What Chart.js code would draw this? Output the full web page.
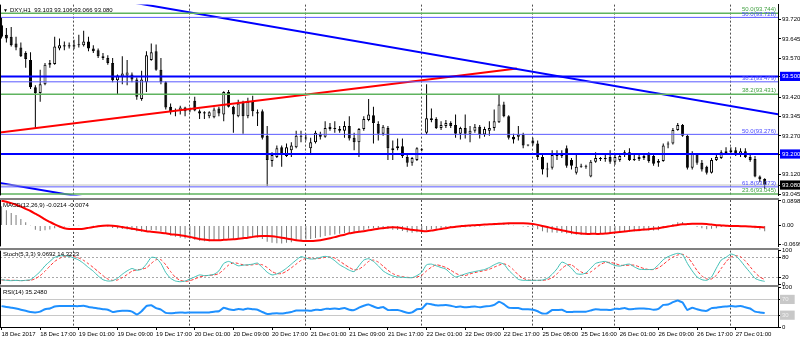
<!DOCTYPE html>
<html>
<head>
<meta charset="utf-8">
<script src="https://cdn.jsdelivr.net/npm/chart.js@4.4.1/dist/chart.umd.min.js"></script>
<style>
html,body{margin:0;padding:0;background:#fff;overflow:hidden;}
#wrap{position:relative;width:800px;height:341px;background:#fff;overflow:hidden;}
#wrap canvas{position:absolute;left:0;}
.sep{position:absolute;left:0;width:779px;height:2px;background:#808080;}
</style>
</head>
<body>
<div id="wrap">
<div class="sep" style="top:198px"></div>
<div class="sep" style="top:248px"></div>
<div class="sep" style="top:285px"></div>
<canvas id="cMain" width="800" height="200" style="top:0"></canvas>
<canvas id="cMacd" width="800" height="56" style="top:195px"></canvas>
<canvas id="cStoch" width="800" height="43" style="top:246px"></canvas>
<canvas id="cRsi" width="800" height="58" style="top:283px"></canvas>
</div>
<script>
// ---------------- categories (H1 bars) ----------------
const dayRuns = [["18 Dec",9,23],["19 Dec",0,23],["20 Dec",0,23],["21 Dec",0,23],["22 Dec",0,22],["25 Dec",6,22],["26 Dec",0,23],["27 Dec",0,7]];
const barTimes = [];
const dayStartBars = [];
dayRuns.forEach(function(r){ dayStartBars.push(barTimes.length); for (let h=r[1]; h<=r[2]; h++) barTimes.push(r[0]+' '+(h<10?'0':'')+h+':00'); });
const separatorBars = dayStartBars.slice(1);
const timeTickLabels = ["18 Dec 2017","18 Dec 17:00","19 Dec 01:00","19 Dec 09:00","19 Dec 17:00","20 Dec 01:00","20 Dec 09:00","20 Dec 17:00","21 Dec 01:00","21 Dec 09:00","21 Dec 17:00","22 Dec 01:00","22 Dec 09:00","22 Dec 17:00","25 Dec 08:00","25 Dec 16:00","26 Dec 01:00","26 Dec 09:00","26 Dec 17:00","27 Dec 01:00"];
const timeTickBars = timeTickLabels.map(function(l,k){ return k===0 ? 0 : barTimes.indexOf(l); });

// ---------------- price series (DXY, H1) ----------------
const openP = [
93.698,93.661,93.653,93.627,93.612,93.590,93.563,93.458,93.436,93.470,
93.545,93.548,93.608,93.616,93.620,93.616,93.623,93.620,93.635,93.608,
93.601,93.578,93.571,93.552,93.485,93.500,93.503,93.507,93.488,93.413,
93.477,93.563,93.597,93.526,93.477,93.383,93.365,93.368,93.380,93.368,
93.406,93.365,93.361,93.346,93.342,93.376,93.353,93.440,93.383,93.346,
93.402,93.346,93.402,93.361,93.365,93.271,93.173,93.188,93.226,93.192,
93.215,93.226,93.267,93.263,93.222,93.245,93.278,93.267,93.305,93.297,
93.297,93.290,93.308,93.263,93.245,93.297,93.331,93.350,93.316,93.278,
93.301,93.215,93.222,93.230,93.188,93.166,93.177,93.218,93.282,93.338,
93.335,93.301,93.308,93.320,93.312,93.278,93.301,93.278,93.290,93.305,
93.275,93.290,93.301,93.323,93.391,93.346,93.267,93.267,93.275,93.233,
93.252,93.241,93.188,93.140,93.147,93.192,93.192,93.222,93.177,93.128,
93.155,93.155,93.113,93.170,93.181,93.181,93.188,93.170,93.177,93.196,
93.207,93.177,93.181,93.185,93.200,93.192,93.166,93.173,93.237,93.241,
93.293,93.312,93.271,93.147,93.200,93.166,93.151,93.128,93.177,93.185,
93.203,93.207,93.215,93.196,93.211,93.188,93.181,93.113,93.103];
const highP = [
93.728,93.687,93.691,93.653,93.631,93.597,93.593,93.466,93.526,93.552,
93.563,93.653,93.646,93.635,93.631,93.642,93.661,93.676,93.653,93.620,
93.608,93.590,93.582,93.571,93.507,93.578,93.563,93.515,93.496,93.522,
93.597,93.627,93.623,93.571,93.481,93.395,93.376,93.387,93.383,93.380,
93.421,93.372,93.365,93.365,93.380,93.383,93.443,93.447,93.387,93.410,
93.406,93.417,93.425,93.372,93.372,93.308,93.207,93.233,93.233,93.241,
93.245,93.290,93.290,93.278,93.263,93.290,93.286,93.327,93.320,93.327,
93.308,93.327,93.346,93.282,93.301,93.346,93.413,93.383,93.327,93.312,
93.308,93.252,93.260,93.260,93.203,93.188,93.226,93.222,93.470,93.376,
93.342,93.327,93.331,93.327,93.353,93.305,93.353,93.308,93.316,93.312,
93.305,93.327,93.372,93.432,93.402,93.350,93.278,93.308,93.282,93.237,
93.263,93.252,93.196,93.166,93.215,93.215,93.215,93.233,93.185,93.196,
93.162,93.158,93.177,93.207,93.188,93.196,93.215,93.196,93.196,93.215,
93.222,93.196,93.196,93.200,93.207,93.203,93.181,93.241,93.248,93.301,
93.320,93.316,93.275,93.211,93.203,93.177,93.155,93.185,93.196,93.215,
93.226,93.226,93.226,93.222,93.222,93.196,93.192,93.117,93.106];
const lowP = [
93.646,93.631,93.616,93.601,93.575,93.533,93.451,93.301,93.402,93.466,
93.533,93.545,93.601,93.601,93.608,93.605,93.612,93.616,93.597,93.590,
93.571,93.563,93.545,93.477,93.428,93.470,93.466,93.477,93.410,93.406,
93.440,93.560,93.522,93.470,93.372,93.353,93.346,93.353,93.346,93.361,
93.365,93.335,93.335,93.338,93.338,93.346,93.327,93.380,93.282,93.342,
93.278,93.338,93.346,93.308,93.256,93.076,93.151,93.185,93.151,93.188,
93.188,93.222,93.245,93.252,93.203,93.241,93.256,93.263,93.290,93.282,
93.282,93.263,93.252,93.215,93.188,93.290,93.327,93.241,93.252,93.271,
93.177,93.177,93.215,93.185,93.151,93.155,93.173,93.211,93.275,93.323,
93.297,93.293,93.301,93.301,93.263,93.256,93.260,93.245,93.282,93.260,
93.267,93.271,93.290,93.320,93.342,93.256,93.241,93.252,93.222,93.230,
93.233,93.177,93.121,93.110,93.140,93.177,93.185,93.147,93.140,93.121,
93.147,93.143,93.110,93.166,93.173,93.170,93.162,93.158,93.170,93.188,
93.173,93.173,93.173,93.177,93.166,93.155,93.151,93.170,93.222,93.237,
93.290,93.267,93.140,93.140,93.158,93.132,93.121,93.125,93.173,93.181,
93.196,93.196,93.192,93.188,93.185,93.170,93.110,93.091,93.066];
const closeP = [
93.653,93.646,93.620,93.612,93.578,93.567,93.458,93.436,93.470,93.545,
93.552,93.616,93.620,93.620,93.616,93.620,93.620,93.635,93.608,93.597,
93.578,93.571,93.552,93.485,93.503,93.511,93.515,93.488,93.421,93.488,
93.582,93.593,93.526,93.477,93.380,93.361,93.368,93.380,93.365,93.372,
93.368,93.357,93.357,93.361,93.372,93.357,93.440,93.383,93.353,93.395,
93.346,93.402,93.365,93.357,93.263,93.177,93.196,93.222,93.196,93.226,
93.233,93.271,93.271,93.260,93.245,93.282,93.267,93.301,93.297,93.301,
93.290,93.308,93.260,93.245,93.297,93.335,93.353,93.320,93.278,93.305,
93.222,93.222,93.230,93.192,93.166,93.185,93.222,93.215,93.338,93.331,
93.301,93.312,93.320,93.308,93.278,93.301,93.278,93.290,93.305,93.275,
93.297,93.301,93.327,93.391,93.346,93.263,93.256,93.275,93.233,93.233,
93.241,93.188,93.140,93.143,93.196,93.200,93.203,93.155,93.155,93.151,
93.151,93.151,93.170,93.185,93.185,93.181,93.170,93.188,93.192,93.207,
93.177,93.181,93.188,93.192,93.173,93.162,93.173,93.233,93.241,93.293,
93.312,93.271,93.147,93.200,93.166,93.140,93.128,93.177,93.188,93.207,
93.211,93.215,93.196,93.211,93.188,93.177,93.113,93.102,93.080];

// ---------------- indicators ----------------
const macdMain = [
0.070,0.056,0.046,0.038,0.024,0.012,0.001,-0.016,-0.020,-0.018,
-0.015,-0.010,-0.007,-0.004,-0.003,-0.001,0.001,0.002,0.002,0.001,
-0.001,-0.003,-0.005,-0.009,-0.011,-0.013,-0.015,-0.017,-0.021,-0.023,
-0.020,-0.017,-0.018,-0.022,-0.030,-0.037,-0.042,-0.045,-0.048,-0.050,
-0.053,-0.056,-0.058,-0.058,-0.057,-0.056,-0.050,-0.048,-0.049,-0.046,
-0.047,-0.044,-0.043,-0.044,-0.050,-0.060,-0.064,-0.065,-0.066,-0.064,
-0.062,-0.057,-0.054,-0.052,-0.050,-0.046,-0.043,-0.039,-0.036,-0.033,
-0.031,-0.028,-0.028,-0.027,-0.023,-0.017,-0.011,-0.010,-0.011,-0.009,
-0.013,-0.016,-0.017,-0.020,-0.025,-0.027,-0.025,-0.024,-0.017,-0.013,
-0.012,-0.010,-0.008,-0.007,-0.008,-0.007,-0.007,-0.006,-0.004,-0.004,
-0.003,-0.002,0.001,0.008,0.009,0.004,0.001,0.000,-0.004,-0.006,
-0.008,-0.014,-0.021,-0.026,-0.026,-0.027,-0.027,-0.030,-0.032,-0.034,
-0.035,-0.035,-0.034,-0.032,-0.031,-0.030,-0.030,-0.028,-0.027,-0.024,
-0.024,-0.022,-0.021,-0.019,-0.019,-0.019,-0.018,-0.010,-0.004,0.005,
0.012,0.013,0.002,-0.002,-0.005,-0.010,-0.014,-0.012,-0.010,-0.006,
-0.004,-0.002,-0.002,-0.001,-0.002,-0.004,-0.010,-0.015,-0.0214];
const macdSignal = [
0.091,0.087,0.082,0.076,0.069,0.061,0.053,0.043,0.033,0.022,
0.013,0.004,-0.004,-0.010,-0.013,-0.013,-0.013,-0.012,-0.009,-0.006,
-0.003,-0.001,0.000,-0.001,-0.003,-0.006,-0.009,-0.012,-0.015,-0.018,
-0.021,-0.023,-0.025,-0.027,-0.029,-0.032,-0.034,-0.036,-0.039,-0.042,
-0.046,-0.050,-0.052,-0.054,-0.054,-0.054,-0.053,-0.052,-0.051,-0.049,
-0.047,-0.045,-0.042,-0.040,-0.039,-0.039,-0.040,-0.042,-0.045,-0.048,
-0.051,-0.054,-0.056,-0.057,-0.057,-0.056,-0.054,-0.051,-0.047,-0.043,
-0.038,-0.034,-0.029,-0.026,-0.023,-0.021,-0.018,-0.015,-0.012,-0.010,
-0.008,-0.007,-0.008,-0.010,-0.013,-0.016,-0.018,-0.020,-0.021,-0.019,
-0.016,-0.013,-0.010,-0.007,-0.005,-0.003,-0.001,0.000,0.001,0.002,
0.003,0.004,0.005,0.006,0.007,0.008,0.008,0.008,0.008,0.007,
0.005,0.002,-0.002,-0.006,-0.010,-0.014,-0.018,-0.021,-0.025,-0.028,
-0.030,-0.031,-0.031,-0.031,-0.031,-0.030,-0.028,-0.026,-0.024,-0.022,
-0.020,-0.018,-0.017,-0.015,-0.014,-0.012,-0.010,-0.007,-0.004,-0.001,
0.002,0.004,0.005,0.006,0.006,0.006,0.005,0.003,0.001,0.000,
-0.001,-0.002,-0.002,-0.003,-0.003,-0.004,-0.005,-0.006,-0.0074];
const stochMain = [
14,12,11,12,11,12,14,25,38,55,
68,80,84,85,83,78,72,62,50,39,
25,14,10,11,18,30,40,47,42,45,
60,80,78,62,35,18,10,8,10,16,
22,28,26,27,30,40,62,68,62,55,
57,58,60,63,50,36,28,31,38,48,
60,72,82,78,75,76,80,83,80,70,
58,50,42,38,55,72,76,68,55,40,
31,25,22,21,20,20,26,36,58,60,
55,50,45,32,22,26,31,35,38,41,
44,50,58,64,60,42,28,15,12,12,
12,12,13,18,30,46,66,60,48,32,
30,34,48,62,66,68,62,56,54,58,
60,52,45,44,44,45,58,73,82,88,
92,88,62,40,22,14,12,22,48,72,
80,90,85,70,52,35,18,12,9.0692];
const stochSignal = [
13,13,12,12,11,12,12,17,26,39,
54,68,77,83,84,82,78,71,61,50,
38,26,16,12,13,20,29,39,43,45,
49,62,73,73,58,38,21,12,9,11,
16,22,25,27,28,32,44,57,64,62,
58,57,58,60,58,50,38,32,32,39,
49,60,71,77,78,76,77,80,81,78,
69,59,50,43,45,55,68,72,66,54,
42,32,26,23,21,20,22,27,40,51,
58,55,50,42,33,27,26,31,35,38,
41,45,51,57,61,55,43,28,18,13,
12,12,12,14,20,31,47,57,58,47,
37,32,37,48,59,65,65,62,57,56,
57,57,52,47,44,44,49,59,71,81,
87,89,81,63,41,25,16,16,27,47,
67,81,85,82,69,52,35,22,14.3223];
const rsiValues = [
53,51,49,47,44,41,38,37,39,45,
47,52,53,53,53,53,53,54,51,49,
47,45,44,38,40,41,41,39,32,40,
53,55,48,44,36,35,36,37,36,37,
37,37,37,37,39,40,49,45,43,46,
44,47,45,44,38,33,34,35,34,36,
38,42,42,42,41,44,43,46,46,47,
46,48,44,43,49,54,57,52,48,51,
43,43,43,40,36,37,45,46,59,58,
55,55,56,54,51,52,50,51,52,50,
52,53,56,64,58,49,48,48,45,45,
44,40,34,35,43,43,44,38,38,39,
39,39,42,45,44,44,43,46,46,48,
45,46,47,47,46,44,46,56,57,63,
67,62,43,49,45,42,41,48,49,51,
52,53,52,53,50,47,39,37,35.248];

// ---------------- objects / levels ----------------
const thickLevels = [93.500, 93.200];
const fiboBlue = [93.728, 93.479, 93.276, 93.073];
const fiboBlueText = ["50.0(93.728)","38.2(93.479)","50.0(93.276)","61.8(93.073)"];
const fiboGreen = [93.744, 93.431, 93.045];
const fiboGreenText = ["50.0(93.744)","38.2(93.431)","23.6(93.045)"];
const bidPrice = 93.080;
const trendDownBars = [20, 160.8], trendDownPrices = [93.8088, 93.3532];
const channelBars = [-5, 25], channelPrices = [93.1033, 93.0072];
const trendUpBars = [-5, 106.7], trendUpPrices = [93.2724, 93.5305];
const priceTicks = [93.045, 93.080, 93.120, 93.200, 93.270, 93.345, 93.420, 93.500, 93.570, 93.645, 93.720];
const boxedPrices = [[93.500,'#0000ff'],[93.200,'#0000ff'],[93.080,'#000000']];
const macdTicks = [-0.0699, 0, 0.0898];
const stochTicks = [0, 20, 80, 100];
const rsiTicks = [0, 30, 70, 100];

// ---------------- drawing ----------------
const FONT = '"Liberation Sans", Arial, sans-serif';
Chart.defaults.font.family = FONT;
Chart.defaults.font.size = 6;
Chart.defaults.color = '#000';
const X_MIN = -0.32, X_MAX = 160.76;
const idx = barTimes.map(function(_, i){ return i; });

const panelDecor = {
  id: 'panelDecor',
  afterDraw: function(chart, args, opts) {
    const ctx = chart.ctx, a = chart.chartArea;
    ctx.save();
    ctx.strokeStyle = '#000'; ctx.lineWidth = 1;
    ctx.beginPath(); ctx.moveTo(a.left + 0.5, a.top); ctx.lineTo(a.left + 0.5, a.bottom); ctx.stroke();
    (opts.texts || []).forEach(function(t){
      ctx.font = (t.size || 6) + 'px ' + FONT;
      ctx.fillStyle = t.color || '#000';
      ctx.textAlign = t.align || 'left';
      let y;
      if (t.value !== undefined) { ctx.textBaseline = 'bottom'; y = chart.scales.y.getPixelForValue(t.value) - 0.5; }
      else { ctx.textBaseline = 'middle'; y = a.top + t.dy; }
      const x = t.right ? a.right - t.right : a.left + t.dx;
      ctx.fillText(t.text, x, y);
    });
    ctx.restore();
  }
};

function sepAxis() {
  return {
    type: 'linear', min: X_MIN, max: X_MAX, position: 'bottom', offset: false, bounds: 'data',
    afterBuildTicks: function(s){ s.ticks = separatorBars.map(function(v){ return {value: v}; }); },
    afterFit: function(s){ s.height = 0; },
    ticks: { display: false },
    grid: { color: '#505050', lineWidth: 1, drawTicks: false, drawOnChartArea: true, offset: false },
    border: { display: false, dash: [2, 2] }
  };
}
function rightAxis(min, max, tickVals, fmt, extra) {
  const ax = {
    type: 'linear', position: 'right', min: min, max: max,
    afterFit: function(s){ s.width = 22; },
    afterBuildTicks: function(s){ s.ticks = tickVals.map(function(v){ return {value: v}; }); },
    ticks: { autoSkip: false, padding: 1, callback: fmt, font: {size: 6} },
    grid: { drawOnChartArea: false, drawTicks: true, tickLength: 3, color: '#000', tickColor: '#000' },
    border: { display: true, color: '#000', width: 1 }
  };
  if (extra) extra(ax);
  return ax;
}
function seg(xs, ys, color, width) {
  return { type: 'line', data: xs.map(function(x, k){ return {x: x, y: ys[k]}; }), borderColor: color, borderWidth: width,
    pointRadius: 0, fill: false, tension: 0, clip: 0, order: 1 };
}
function hline(v, color, width) { return seg([X_MIN, X_MAX], [v, v], color, width); }
function boxColor(v) { for (const b of boxedPrices) if (Math.abs(b[0] - v) < 1e-6) return b[1]; return null; }
const common = { responsive: false, animation: false, events: [], devicePixelRatio: 1 };

// main price panel
const mainSets = [
  { type: 'bar', data: idx.map(function(i){ return {x: i, y: [lowP[i], highP[i]]}; }), backgroundColor: '#000', borderWidth: 0,
    barThickness: 1, grouped: false, order: 10, inflateAmount: 0 },
  { type: 'bar', data: idx.map(function(i){ return {x: i, y: [openP[i], closeP[i]]}; }),
    backgroundColor: idx.map(function(i){ return closeP[i] >= openP[i] ? '#ffffff' : '#000000'; }),
    borderColor: '#000', borderWidth: 1, borderSkipped: false, barThickness: 3, minBarLength: 1, grouped: false, order: 9, inflateAmount: 0 },
  hline(bidPrice, '#c0c0c0', 1)
];
fiboGreen.forEach(function(v){ mainSets.push(hline(v, '#5fb35f', 1.5)); });
fiboBlue.forEach(function(v){ mainSets.push(hline(v, '#5a5aff', 1)); });
thickLevels.forEach(function(v){ mainSets.push(hline(v, '#0000ff', 2)); });
mainSets.push(seg(trendDownBars, trendDownPrices, '#0000ff', 2));
mainSets.push(seg(channelBars, channelPrices, '#0000ff', 2));
mainSets.push(seg(trendUpBars, trendUpPrices, '#ff0000', 2));

const mainTexts = [
  {text: '\u25BC', dx: 3, dy: 6, size: 5},
  {text: 'DXY,H1  ' + openP[158].toFixed(3) + ' ' + highP[158].toFixed(3) + ' ' + lowP[158].toFixed(3) + ' ' + closeP[158].toFixed(3), dx: 10, dy: 6}
];
fiboGreen.forEach(function(v, k){ mainTexts.push({text: fiboGreenText[k], value: v, right: 2, align: 'right', color: '#3f9f3f'}); });
fiboBlue.forEach(function(v, k){ mainTexts.push({text: fiboBlueText[k], value: v, right: 2, align: 'right', color: '#4a4aff'}); });

new Chart(document.getElementById('cMain'), {
  type: 'bar',
  data: { datasets: mainSets },
  options: Object.assign({}, common, {
    layout: { padding: { left: 0, right: 0, top: 0, bottom: 2 } },
    plugins: { legend: {display: false}, tooltip: {enabled: false}, panelDecor: { texts: mainTexts } },
    scales: {
      x: sepAxis(),
      y: rightAxis(93.040, 93.7775, priceTicks, function(v){ return Number(v).toFixed(3); }, function(ax){
        ax.ticks.color = function(c){ return (c.tick && boxColor(c.tick.value)) ? '#ffffff' : '#000000'; };
        ax.ticks.showLabelBackdrop = function(c){ return !!(c.tick && boxColor(c.tick.value)); };
        ax.ticks.backdropColor = function(c){ return (c.tick && boxColor(c.tick.value)) || 'rgba(0,0,0,0)'; };
        ax.ticks.backdropPadding = { left: 2, right: 4, top: 1, bottom: 1 };
      })
    }
  }),
  plugins: [panelDecor]
});

// MACD panel
new Chart(document.getElementById('cMacd'), {
  type: 'bar',
  data: { datasets: [
    { type: 'bar', data: idx.map(function(i){ return {x: i, y: macdMain[i]}; }), backgroundColor: '#7a7a7a', barThickness: 1, grouped: false, order: 3, inflateAmount: 0 },
    { type: 'line', data: idx.map(function(i){ return {x: i, y: macdSignal[i]}; }), borderColor: '#ff0000', borderWidth: 2, pointRadius: 0, tension: 0.2, order: 1, clip: 0 }
  ]},
  options: Object.assign({}, common, {
    layout: { padding: { left: 0, right: 0, top: 5, bottom: 3 } },
    plugins: { legend: {display: false}, tooltip: {enabled: false},
      panelDecor: { texts: [{text: 'MACD(12,26,9) ' + macdMain[158].toFixed(4) + ' ' + macdSignal[158].toFixed(4), dx: 3, dy: 5}] } },
    scales: { x: sepAxis(), y: rightAxis(-0.077, 0.0934, macdTicks, function(v){ return v === 0 ? '0.00' : String(v); }) }
  }),
  plugins: [panelDecor]
});

// Stochastic panel
new Chart(document.getElementById('cStoch'), {
  type: 'line',
  data: { datasets: [
    { data: idx.map(function(i){ return {x: i, y: stochMain[i]}; }), borderColor: '#3fbfb5', borderWidth: 1, pointRadius: 0, tension: 0.2, clip: 0 },
    { data: idx.map(function(i){ return {x: i, y: stochSignal[i]}; }), borderColor: '#ff3030', borderWidth: 1, borderDash: [3, 2], pointRadius: 0, tension: 0.2, clip: 0 }
  ]},
  options: Object.assign({}, common, {
    layout: { padding: { left: 0, right: 0, top: 4, bottom: 4 } },
    plugins: { legend: {display: false}, tooltip: {enabled: false},
      panelDecor: { texts: [{text: 'Stoch(5,3,3) ' + stochMain[158].toFixed(4) + ' ' + stochSignal[158].toFixed(4), dx: 3, dy: 4}] } },
    scales: { x: sepAxis(), y: rightAxis(0, 100, stochTicks, function(v){ return String(v); }, function(ax){
      ax.grid.drawOnChartArea = true;
      ax.grid.color = function(c){ return (c.tick && (c.tick.value === 20 || c.tick.value === 80)) ? '#a8a8a8' : 'rgba(0,0,0,0)'; };
      ax.grid.tickColor = '#000';
      ax.border.dash = [2, 2];
    }) }
  }),
  plugins: [panelDecor]
});

// RSI panel (+ time axis)
new Chart(document.getElementById('cRsi'), {
  type: 'line',
  data: { datasets: [
    { data: idx.map(function(i){ return {x: i, y: rsiValues[i]}; }), borderColor: '#1e90ff', borderWidth: 2, pointRadius: 0, tension: 0.1, clip: 0 }
  ]},
  options: Object.assign({}, common, {
    layout: { padding: { left: 0, right: 0, top: 4, bottom: 0 } },
    plugins: { legend: {display: false}, tooltip: {enabled: false},
      panelDecor: { texts: [{text: 'RSI(14) ' + rsiValues[158].toFixed(4), dx: 3, dy: 5}] } },
    scales: {
      x: sepAxis(),
      xl: {
        type: 'linear', position: 'bottom', min: X_MIN, max: X_MAX, offset: false, bounds: 'data',
        afterBuildTicks: function(s){ s.ticks = timeTickBars.map(function(v){ return {value: v}; }); },
        afterFit: function(s){ s.height = 14; },
        ticks: { autoSkip: false, maxRotation: 0, minRotation: 0, align: 'start', padding: 1, font: {size: 6},
          callback: function(v, i){ return timeTickLabels[i]; } },
        grid: { drawOnChartArea: false, drawTicks: true, tickLength: 3, color: '#000', offset: false },
        border: { display: true, color: '#000' }
      },
      y: rightAxis(0, 100, rsiTicks, function(v){ return String(v); }, function(ax){
        ax.grid.drawOnChartArea = true;
        ax.grid.color = function(c){ return (c.tick && (c.tick.value === 30 || c.tick.value === 70)) ? '#c8c8c8' : 'rgba(0,0,0,0)'; };
        ax.grid.tickColor = '#000';
        ax.ticks.showLabelBackdrop = function(c){ return !!(c.tick && (c.tick.value === 30 || c.tick.value === 70)); };
        ax.ticks.backdropColor = '#c8c8c8';
        ax.ticks.color = function(c){ return (c.tick && (c.tick.value === 30 || c.tick.value === 70)) ? '#f0f0f0' : '#000'; };
        ax.ticks.backdropPadding = { left: 2, right: 6, top: 1, bottom: 1 };
      })
    }
  }),
  plugins: [panelDecor]
});
</script>
</body>
</html>
